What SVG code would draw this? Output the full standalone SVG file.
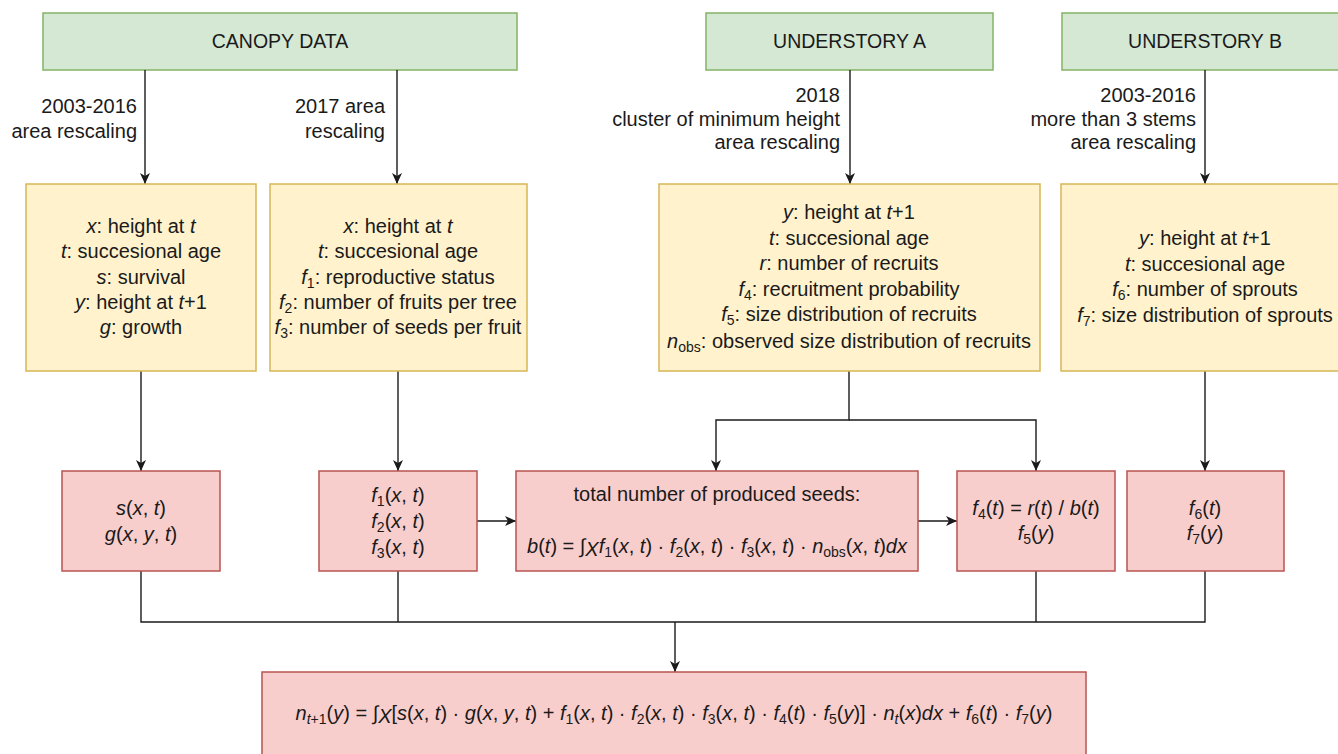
<svg xmlns="http://www.w3.org/2000/svg" width="1338" height="754" viewBox="0 0 1338 754">
<style>
text{font-family:"Liberation Sans",Arial,sans-serif;font-size:20px;fill:#1a1a1a}
.c{text-anchor:middle}
.e{text-anchor:end}
.i{font-style:italic}
.g{fill:#d5e8d4;stroke:#82b366;stroke-width:1.5}
.y{fill:#fff2cc;stroke:#d6b656;stroke-width:1.5}
.r{fill:#f8cecc;stroke:#b85450;stroke-width:1.5}
.ln{fill:none;stroke:#1a1a1a;stroke-width:1.4}
.s{font-size:14px}
</style>
<defs>
<marker id="a" markerUnits="userSpaceOnUse" markerWidth="14" markerHeight="12" refX="11" refY="5" orient="auto">
<path d="M0,0 L11,5 L0,10 L3,5 z" fill="#1a1a1a"/>
</marker>
</defs>
<rect width="1338" height="754" fill="#ffffff"/>

<g id="canopy"><rect class="g" x="43" y="13" width="474" height="57"/><text class="c" x="280" y="48" style="font-size:19.5px">CANOPY DATA</text></g>
<g id="understoryA"><rect class="g" x="706" y="13" width="287" height="57"/><text class="c" x="849.5" y="48" style="font-size:19.5px">UNDERSTORY A</text></g>
<g id="understoryB"><rect class="g" x="1062" y="13" width="288" height="57"/><text class="c" x="1205" y="48" style="font-size:19.5px">UNDERSTORY B</text></g>

<g id="connectors">
<path class="ln" d="M145,70 V184" marker-end="url(#a)"/>
<path class="ln" d="M397,70 V184" marker-end="url(#a)"/>
<path class="ln" d="M850,70 V184" marker-end="url(#a)"/>
<path class="ln" d="M1205,70 V184" marker-end="url(#a)"/>
<path class="ln" d="M141,371 V471" marker-end="url(#a)"/>
<path class="ln" d="M398,371 V471" marker-end="url(#a)"/>
<path class="ln" d="M849,371 V420 H716 V471" marker-end="url(#a)"/>
<path class="ln" d="M849,420 H1036 V471" marker-end="url(#a)"/>
<path class="ln" d="M1205,371 V471" marker-end="url(#a)"/>
<path class="ln" d="M477,521 H516" marker-end="url(#a)"/>
<path class="ln" d="M918,521 H957" marker-end="url(#a)"/>
<path class="ln" d="M141,571 V622 H1205 V571"/>
<path class="ln" d="M398,571 V622"/>
<path class="ln" d="M1036,571 V622"/>
<path class="ln" d="M675,622 V672" marker-end="url(#a)"/>
<text class="e" x="137" y="113">2003-2016</text>
<text class="e" x="137" y="138">area rescaling</text>
<text class="e" x="385" y="113">2017 area</text>
<text class="e" x="385" y="138">rescaling</text>
<text class="e" x="840" y="102">2018</text>
<text class="e" x="840" y="126">cluster of minimum height</text>
<text class="e" x="840" y="149">area rescaling</text>
<text class="e" x="1196" y="102">2003-2016</text>
<text class="e" x="1196" y="126">more than 3 stems</text>
<text class="e" x="1196" y="149">area rescaling</text>
</g>

<g id="vars1"><rect class="y" x="26" y="184" width="230" height="187"/>
<text class="c" x="141" y="233"><tspan class="i">x</tspan>: height at <tspan class="i">t</tspan></text>
<text class="c" x="141" y="258"><tspan class="i">t</tspan>: succesional age</text>
<text class="c" x="141" y="284"><tspan class="i">s</tspan>: survival</text>
<text class="c" x="141" y="309"><tspan class="i">y</tspan>: height at <tspan class="i">t</tspan>+1</text>
<text class="c" x="141" y="334"><tspan class="i">g</tspan>: growth</text>
</g>
<g id="vars2"><rect class="y" x="270" y="184" width="257" height="187"/>
<text class="c" x="398" y="233"><tspan class="i">x</tspan>: height at <tspan class="i">t</tspan></text>
<text class="c" x="398" y="258"><tspan class="i">t</tspan>: succesional age</text>
<text class="c" x="398" y="284"><tspan class="i">f</tspan><tspan class="s" dy="4">1</tspan><tspan dy="-4">: reproductive status</tspan></text>
<text class="c" x="398" y="309"><tspan class="i">f</tspan><tspan class="s" dy="4">2</tspan><tspan dy="-4">: number of fruits per tree</tspan></text>
<text class="c" x="398" y="334"><tspan class="i">f</tspan><tspan class="s" dy="4">3</tspan><tspan dy="-4">: number of seeds per fruit</tspan></text>
</g>
<g id="vars3"><rect class="y" x="659" y="184" width="381" height="187"/>
<text class="c" x="849" y="219"><tspan class="i">y</tspan>: height at <tspan class="i">t</tspan>+1</text>
<text class="c" x="849" y="245"><tspan class="i">t</tspan>: succesional age</text>
<text class="c" x="849" y="270"><tspan class="i">r</tspan>: number of recruits</text>
<text class="c" x="849" y="296"><tspan class="i">f</tspan><tspan class="s" dy="4">4</tspan><tspan dy="-4">: recruitment probability</tspan></text>
<text class="c" x="849" y="321"><tspan class="i">f</tspan><tspan class="s" dy="4">5</tspan><tspan dy="-4">: size distribution of recruits</tspan></text>
<text class="c" x="849" y="348"><tspan class="i">n</tspan><tspan class="s" dy="4">obs</tspan><tspan dy="-4">: observed size distribution of recruits</tspan></text>
</g>
<g id="vars4"><rect class="y" x="1061" y="184" width="289" height="187"/>
<text class="c" x="1205" y="245"><tspan class="i">y</tspan>: height at <tspan class="i">t</tspan>+1</text>
<text class="c" x="1205" y="271"><tspan class="i">t</tspan>: succesional age</text>
<text class="c" x="1205" y="296"><tspan class="i">f</tspan><tspan class="s" dy="4">6</tspan><tspan dy="-4">: number of sprouts</tspan></text>
<text class="c" x="1205" y="322"><tspan class="i">f</tspan><tspan class="s" dy="4">7</tspan><tspan dy="-4">: size distribution of sprouts</tspan></text>
</g>

<g id="survival"><rect class="r" x="62" y="471" width="158" height="100"/>
<text class="c" x="141" y="515"><tspan class="i">s</tspan>(<tspan class="i">x</tspan>, <tspan class="i">t</tspan>)</text>
<text class="c" x="141" y="541"><tspan class="i">g</tspan>(<tspan class="i">x</tspan>, <tspan class="i">y</tspan>, <tspan class="i">t</tspan>)</text>
</g>
<g id="fecundity"><rect class="r" x="319" y="471" width="158" height="100"/>
<text class="c" x="398" y="502"><tspan class="i">f</tspan><tspan class="s" dy="4">1</tspan><tspan dy="-4">(</tspan><tspan class="i">x</tspan>, <tspan class="i">t</tspan>)</text>
<text class="c" x="398" y="528"><tspan class="i">f</tspan><tspan class="s" dy="4">2</tspan><tspan dy="-4">(</tspan><tspan class="i">x</tspan>, <tspan class="i">t</tspan>)</text>
<text class="c" x="398" y="554"><tspan class="i">f</tspan><tspan class="s" dy="4">3</tspan><tspan dy="-4">(</tspan><tspan class="i">x</tspan>, <tspan class="i">t</tspan>)</text>
</g>
<g id="seeds"><rect class="r" x="516" y="471" width="402" height="100"/>
<text class="c" x="717" y="501">total number of produced seeds:</text>
<text class="c" x="717" y="553"><tspan class="i">b</tspan>(<tspan class="i">t</tspan>) = ∫<tspan class="i" dy="3">X</tspan><tspan class="i" dy="-3">f</tspan><tspan class="s" dy="4">1</tspan><tspan dy="-4">(</tspan><tspan class="i">x</tspan>, <tspan class="i">t</tspan>) · <tspan class="i">f</tspan><tspan class="s" dy="4">2</tspan><tspan dy="-4">(</tspan><tspan class="i">x</tspan>, <tspan class="i">t</tspan>) · <tspan class="i">f</tspan><tspan class="s" dy="4">3</tspan><tspan dy="-4">(</tspan><tspan class="i">x</tspan>, <tspan class="i">t</tspan>) · <tspan class="i">n</tspan><tspan class="s" dy="4">obs</tspan><tspan dy="-4">(</tspan><tspan class="i">x</tspan>, <tspan class="i">t</tspan>)<tspan class="i">dx</tspan></text>
</g>
<g id="recruitment"><rect class="r" x="957" y="471" width="158" height="100"/>
<text class="c" x="1036" y="515"><tspan class="i">f</tspan><tspan class="s" dy="4">4</tspan><tspan dy="-4">(</tspan><tspan class="i">t</tspan>) = <tspan class="i">r</tspan>(<tspan class="i">t</tspan>) / <tspan class="i">b</tspan>(<tspan class="i">t</tspan>)</text>
<text class="c" x="1036" y="540"><tspan class="i">f</tspan><tspan class="s" dy="4">5</tspan><tspan dy="-4">(</tspan><tspan class="i">y</tspan>)</text>
</g>
<g id="sprouts"><rect class="r" x="1127" y="471" width="157" height="100"/>
<text class="c" x="1205" y="515"><tspan class="i">f</tspan><tspan class="s" dy="4">6</tspan><tspan dy="-4">(</tspan><tspan class="i">t</tspan>)</text>
<text class="c" x="1205" y="540"><tspan class="i">f</tspan><tspan class="s" dy="4">7</tspan><tspan dy="-4">(</tspan><tspan class="i">y</tspan>)</text>
</g>
<g id="model"><rect class="r" x="262" y="672" width="824" height="95"/>
<text class="c" x="674" y="720"><tspan class="i">n</tspan><tspan class="s" dy="4"><tspan class="i">t</tspan>+1</tspan><tspan dy="-4">(</tspan><tspan class="i">y</tspan>) = ∫<tspan class="i" dy="3">X</tspan><tspan dy="-3">[</tspan><tspan class="i">s</tspan>(<tspan class="i">x</tspan>, <tspan class="i">t</tspan>) · <tspan class="i">g</tspan>(<tspan class="i">x</tspan>, <tspan class="i">y</tspan>, <tspan class="i">t</tspan>) + <tspan class="i">f</tspan><tspan class="s" dy="4">1</tspan><tspan dy="-4">(</tspan><tspan class="i">x</tspan>, <tspan class="i">t</tspan>) · <tspan class="i">f</tspan><tspan class="s" dy="4">2</tspan><tspan dy="-4">(</tspan><tspan class="i">x</tspan>, <tspan class="i">t</tspan>) · <tspan class="i">f</tspan><tspan class="s" dy="4">3</tspan><tspan dy="-4">(</tspan><tspan class="i">x</tspan>, <tspan class="i">t</tspan>) · <tspan class="i">f</tspan><tspan class="s" dy="4">4</tspan><tspan dy="-4">(</tspan><tspan class="i">t</tspan>) · <tspan class="i">f</tspan><tspan class="s" dy="4">5</tspan><tspan dy="-4">(</tspan><tspan class="i">y</tspan>)] · <tspan class="i">n</tspan><tspan class="s i" dy="4">t</tspan><tspan dy="-4">(</tspan><tspan class="i">x</tspan>)<tspan class="i">dx</tspan> + <tspan class="i">f</tspan><tspan class="s" dy="4">6</tspan><tspan dy="-4">(</tspan><tspan class="i">t</tspan>) · <tspan class="i">f</tspan><tspan class="s" dy="4">7</tspan><tspan dy="-4">(</tspan><tspan class="i">y</tspan>)</text>
</g>
</svg>
